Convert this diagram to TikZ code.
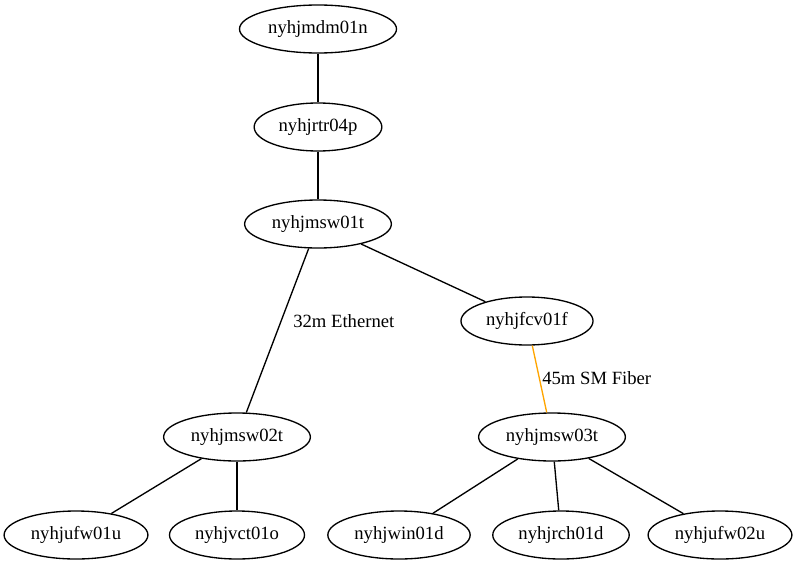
\documentclass[tikz,border=0pt]{standalone}
\usepackage{fontspec}
\setmainfont{Liberation Serif}
\usetikzlibrary{shapes.geometric}
\definecolor{fiberorange}{HTML}{FFA500}
\begin{document}
\begin{tikzpicture}[x=.75pt,y=-.75pt,
  host/.style={draw,ellipse,line width=1pt,inner xsep=4.3pt,inner ysep=1pt,minimum height=36pt,font=\fontsize{14}{16}\selectfont},
  link/.style={draw,line width=1pt},
  fiber/.style={draw=fiberorange,line width=1pt},
  lbl/.style={anchor=west,inner sep=0pt,font=\fontsize{14}{16}\selectfont}]
\useasboundingbox (0,0) rectangle (799,564);
\node[host] (mdm01n) at (318,29) {nyhjmdm01n};
\node[host] (rtr04p) at (318,127) {nyhjrtr04p};
\node[host] (msw01t) at (318,224) {nyhjmsw01t};
\node[host] (fcv01f) at (527,321) {nyhjfcv01f};
\node[host] (msw02t) at (237,437) {nyhjmsw02t};
\node[host] (msw03t) at (552,437) {nyhjmsw03t};
\node[host] (ufw01u) at (76,535) {nyhjufw01u};
\node[host] (vct01o) at (237,535) {nyhjvct01o};
\node[host] (win01d) at (399,535) {nyhjwin01d};
\node[host] (rch01d) at (561,535) {nyhjrch01d};
\node[host] (ufw02u) at (720,535) {nyhjufw02u};
\draw[link] (mdm01n) -- (rtr04p);
\draw[link] (rtr04p) -- (msw01t);
\draw[link] (msw01t) -- (msw02t);
\node[lbl] (eth) at (293,321) {32m Ethernet};
\draw[link] (msw01t) -- (fcv01f);
\draw[fiber] (fcv01f) -- (msw03t);
\node[lbl] (smf) at (542,378) {45m SM Fiber};
\foreach \leaf in {ufw01u,vct01o}
\draw[link] (msw02t) -- (\leaf);
\foreach \leaf in {win01d,rch01d,ufw02u}
\draw[link] (msw03t) -- (\leaf);
\end{tikzpicture}
\end{document}
